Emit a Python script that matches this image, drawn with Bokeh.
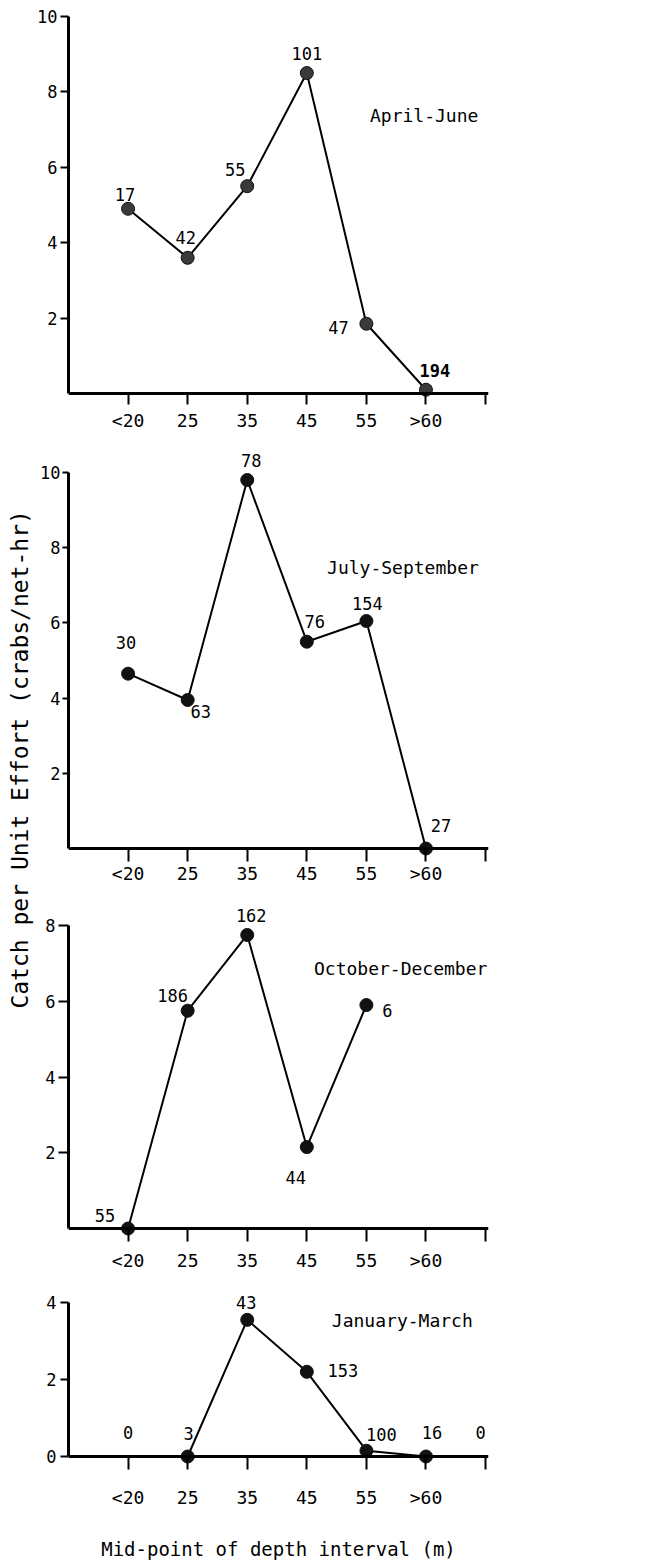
import math
from bokeh.plotting import figure
from bokeh.models import ColumnDataSource, LabelSet, Label, Span, FixedTicker
from bokeh.layouts import row, column
from bokeh.core.properties import value
from bokeh.embed import file_html
from bokeh.resources import INLINE

nan = float("nan")

# ---------------- data ----------------
depth_labels = ["<20", "25", "35", "45", "55", ">60"]
seasons = ["April-June", "July-September", "October-December", "January-March"]

apr_jun_cpue = [4.9, 3.6, 5.5, 8.5, 1.85, 0.1]
apr_jun_n = [17, 42, 55, 101, 47, 194]

jul_sep_cpue = [4.65, 3.95, 9.8, 5.5, 6.05, 0.0]
jul_sep_n = [30, 63, 78, 76, 154, 27]

oct_dec_cpue = [0.0, 5.75, 7.75, 2.15, 5.9, nan]
oct_dec_n = [55, 186, 162, 44, 6]

jan_mar_cpue = [nan, 0.0, 3.55, 2.2, 0.15, 0.0]
jan_mar_n = [0, 3, 43, 153, 100, 16, 0]

y_title = "Catch per Unit Effort   (crabs/net-hr)"
x_title = "Mid-point of depth interval (m)"

# ---------------- layout / style ----------------
FONT = "DejaVu Sans Mono"
LEFT_W = 34
FIG_W = 650 - LEFT_W


def make_panel(cpue, n, season, g):
    # pixel geometry (absolute page pixels) -> ranges and borders
    ppx = (g["x7"] - g["fl"]) / 7.0
    x_end = (g["fr"] - g["fl"]) / ppx
    ppy = (g["y0"] - g["ytop"]) / g["y_ticks"][-1]
    y_end = (g["y0"] - g["ft"]) / ppy
    fb = g["y0"] + g["tick_len"]
    y_start = -(fb - g["y0"]) / ppy

    p = figure(width=FIG_W, height=g["height"],
               x_range=(0, x_end), y_range=(y_start, y_end),
               output_backend="svg", toolbar_location=None,
               min_border_top=g["ft"] - g["top"],
               min_border_bottom=g["top"] + g["height"] - fb,
               min_border_left=g["fl"] - LEFT_W,
               min_border_right=650 - g["fr"])
    p.grid.visible = False
    p.outline_line_color = None
    p.background_fill_color = "white"
    p.border_fill_color = "white"

    xs = list(range(1, len(cpue) + 1))
    src = ColumnDataSource(dict(x=xs, y=cpue))
    p.line("x", "y", source=src, line_width=2, line_color="black")
    p.scatter("x", "y", source=src, size=13, fill_color=g["marker"],
              line_color="#111111", line_width=1)

    lx = list(range(1, len(n) + 1))
    ly = [cpue[i] if i < len(cpue) and not math.isnan(cpue[i]) else 0.0
          for i in range(len(n))]
    styles = ["bold" if i in g.get("bold", []) else "normal" for i in range(len(n))]
    lsrc = ColumnDataSource(dict(x=lx, y=ly, text=[str(v) for v in n],
                                 dx=g["dx"], dy=g["dy"], st=styles))
    p.add_layout(LabelSet(x="x", y="y", text="text", x_offset="dx", y_offset="dy",
                          source=lsrc, text_font=value(FONT), text_font_size="17px",
                          text_font_style="st",
                          text_align="center", text_baseline="middle",
                          text_color="black"))

    p.add_layout(Label(x=g["season_xy"][0], y=g["season_xy"][1], text=season,
                       text_font=FONT, text_font_size="18px", text_align="left",
                       text_baseline="middle", text_color="black"))

    # zero line acting as the x axis line
    p.add_layout(Span(location=0, dimension="width", line_color="black", line_width=3))

    xa = p.xaxis[0]
    xa.ticker = FixedTicker(ticks=[1, 2, 3, 4, 5, 6, 7])
    xa.major_label_overrides = {1: depth_labels[0], 2: depth_labels[1], 3: depth_labels[2],
                                4: depth_labels[3], 5: depth_labels[4], 6: depth_labels[5],
                                7: ""}
    xa.axis_line_color = None
    xa.major_tick_in = g["tick_len"]
    xa.major_tick_out = 0
    xa.major_tick_line_width = 2
    xa.minor_tick_line_color = None
    xa.major_label_standoff = g["xl_standoff"]
    xa.major_label_text_font = FONT
    xa.major_label_text_font_size = "18px"
    xa.major_label_text_color = "black"

    ya = p.yaxis[0]
    ya.ticker = FixedTicker(ticks=g["y_ticks"])
    ya.bounds = (0, g["y_ticks"][-1])
    ya.axis_line_width = 3
    ya.axis_line_color = "black"
    ya.major_tick_out = g["yt_out"]
    ya.major_tick_in = 0
    ya.major_tick_line_width = 2
    ya.minor_tick_line_color = None
    ya.major_label_standoff = g["yl_standoff"]
    ya.major_label_text_font = FONT
    ya.major_label_text_font_size = "17px"
    ya.major_label_text_color = "black"
    return p


g1 = dict(top=0, height=440, ft=2, fl=67, x7=490, fr=493, y0=393, ytop=16,
          y_ticks=[2, 4, 6, 8, 10], tick_len=11, xl_standoff=5, yt_out=8, yl_standoff=3,
          marker="#3a3a3a", bold=[5],
          dx=[-3, -2, -12, 0, -28, 9], dy=[14, 20, 17, 20, -4, 19],
          season_xy=(5.06, 7.37))
g2 = dict(top=440, height=458, ft=444, fl=63, x7=490, fr=493, y0=848, ytop=472,
          y_ticks=[2, 4, 6, 8, 10], tick_len=13, xl_standoff=1, yt_out=6, yl_standoff=2,
          marker="#111111",
          dx=[-2, 13, 4, 8, 1, 15], dy=[31, -12, 20, 20, 18, 23],
          season_xy=(4.34, 7.47))
g3 = dict(top=898, height=387, ft=900, fl=60, x7=485, fr=488, y0=1228, ytop=925,
          y_ticks=[2, 4, 6, 8], tick_len=13, xl_standoff=8, yt_out=10, yl_standoff=3,
          marker="#111111",
          dx=[-23, -15, 4, -11, 21], dy=[13, 15, 19, -30, -5],
          season_xy=(4.12, 6.86))
g4 = dict(top=1285, height=277, ft=1289, fl=57, x7=485, fr=488, y0=1456, ytop=1302,
          y_ticks=[0, 2, 4], tick_len=13, xl_standoff=17, yt_out=8, yl_standoff=4,
          marker="#111111",
          dx=[0, 1, -1, 36, 15, 6, -5], dy=[24, 23, 17, 1, 16, 24, 24],
          season_xy=(4.42, 3.53))

p1 = make_panel(apr_jun_cpue, apr_jun_n, seasons[0], g1)
p2 = make_panel(jul_sep_cpue, jul_sep_n, seasons[1], g2)
p3 = make_panel(oct_dec_cpue, oct_dec_n, seasons[2], g3)
p4 = make_panel(jan_mar_cpue, jan_mar_n, seasons[3], g4)

p4.xaxis[0].axis_label = x_title
p4.xaxis[0].axis_label_text_font = FONT
p4.xaxis[0].axis_label_text_font_size = "19px"
p4.xaxis[0].axis_label_text_font_style = "normal"
p4.xaxis[0].axis_label_text_color = "black"
p4.xaxis[0].axis_label_standoff = 27

left = figure(width=LEFT_W, height=1562, x_range=(0, LEFT_W), y_range=(0, 1562),
              x_axis_location=None, y_axis_location=None, min_border=0,
              toolbar_location=None, output_backend="svg")
left.outline_line_color = None
left.grid.visible = False
left.add_layout(Label(x=19, y=1562 - 745, text=y_title, angle=math.pi / 2,
                      text_font=FONT, text_font_size="23px", text_align="center",
                      text_baseline="middle", text_color="black"))

layout = row(left, column(p1, p2, p3, p4))

open("out.html", "w").write(file_html(layout, INLINE))
